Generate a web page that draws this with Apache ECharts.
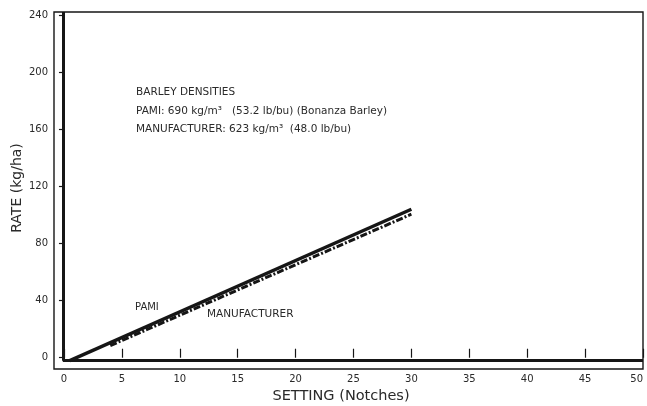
<!DOCTYPE html>
<html>
<head>
<meta charset="utf-8">
<script src="https://cdn.jsdelivr.net/npm/echarts@6/dist/echarts.min.js"></script>
<style>
  html, body { margin: 0; padding: 0; background: #fff; }
  #chart { width: 647px; height: 406px; }
</style>
</head>
<body>
<div id="chart"></div>
<script>
// Seeding rate versus meter setting for barley
const settingTicks = [0, 5, 10, 15, 20, 25, 30, 35, 40, 45, 50];
const rateTicks = [0, 40, 80, 120, 160, 200, 240];

// PAMI measured calibration (setting, kg/ha)
const pamiSetting = [0.5, 30];
const pamiRate = [-2, 104];

// Manufacturer's published calibration (setting, kg/ha)
const mfrSetting = [4, 30];
const mfrRate = [8.5, 100.5];

const densityNotes = [
  'BARLEY DENSITIES',
  'PAMI: 690 kg/m³   (53.2 lb/bu) (Bonanza Barley)',
  'MANUFACTURER: 623 kg/m³  (48.0 lb/bu)'
];

const ink = '#161616';
const textInk = '#2a2a2a';
const font = '"DejaVu Sans", Verdana, sans-serif';

const chart = echarts.init(document.getElementById('chart'), null, { renderer: 'canvas' });

const pairs = (xs, ys) => xs.map((x, i) => [x, ys[i]]);

chart.setOption({
  backgroundColor: '#ffffff',
  animation: false,
  grid: {
    left: 54, right: 4, top: 12, bottom: 37,
    outerBoundsMode: 'none',
    containLabel: false,
    show: true, borderColor: ink, borderWidth: 1.4, backgroundColor: '#ffffff'
  },
  xAxis: {
    type: 'value',
    min: -0.86, max: 50,
    axisLine: { show: false },
    splitLine: { show: false },
    axisTick: {
      show: true, inside: true, length: 9,
      customValues: settingTicks,
      lineStyle: { color: ink, width: 1.2 }
    },
    axisLabel: {
      customValues: settingTicks,
      alignMaxLabel: 'right',
      margin: 5, fontSize: 10, color: textInk, fontFamily: font
    }
  },
  yAxis: {
    type: 'value',
    min: -7.9, max: 242.1,
    axisLine: { show: false },
    splitLine: { show: false },
    axisTick: {
      show: true, inside: false, length: 5,
      customValues: rateTicks,
      lineStyle: { color: ink, width: 1.2 }
    },
    axisLabel: {
      customValues: rateTicks,
      margin: 6, fontSize: 10, color: textInk, fontFamily: font
    }
  },
  series: [
    {
      name: 'PAMI',
      type: 'line',
      data: pairs(pamiSetting, pamiRate),
      symbol: 'none',
      lineStyle: { color: ink, width: 3.4 },
      z: 3,
      markLine: {
        silent: true,
        symbol: 'none',
        label: { show: false },
        lineStyle: { color: ink, width: 3, type: 'solid' },
        data: [
          [{ coord: [-0.1, -2.1] }, { coord: [-0.1, 242.1] }],
          [{ coord: [-0.1, -2.1] }, { coord: [50, -2.1] }]
        ]
      }
    },
    {
      name: 'MANUFACTURER',
      type: 'line',
      data: pairs(mfrSetting, mfrRate),
      symbol: 'none',
      lineStyle: { color: ink, width: 3, type: [7, 2, 2, 2] },
      z: 2
    }
  ],
  graphic: [
    {
      type: 'text', left: 136, top: 87,
      style: { text: densityNotes[0], fill: textInk, font: '10.5px ' + font }
    },
    {
      type: 'text', left: 136, top: 106,
      style: { text: densityNotes[1], fill: textInk, font: '10.5px ' + font }
    },
    {
      type: 'text', left: 136, top: 124,
      style: { text: densityNotes[2], fill: textInk, font: '10.5px ' + font }
    },
    {
      type: 'text', left: 135, top: 302,
      style: { text: 'PAMI', fill: textInk, font: '10px ' + font }
    },
    {
      type: 'text', left: 207, top: 309,
      style: { text: 'MANUFACTURER', fill: textInk, font: '10.5px ' + font }
    },
    {
      type: 'text', x: 17, y: 188, rotation: Math.PI / 2,
      style: { text: 'RATE (kg/ha)', fill: textInk, font: '14px ' + font, align: 'center', verticalAlign: 'middle' }
    },
    {
      type: 'text', x: 341, y: 396,
      style: { text: 'SETTING (Notches)', fill: textInk, font: '14.5px ' + font, align: 'center', verticalAlign: 'middle' }
    }
  ]
});
</script>
</body>
</html>
